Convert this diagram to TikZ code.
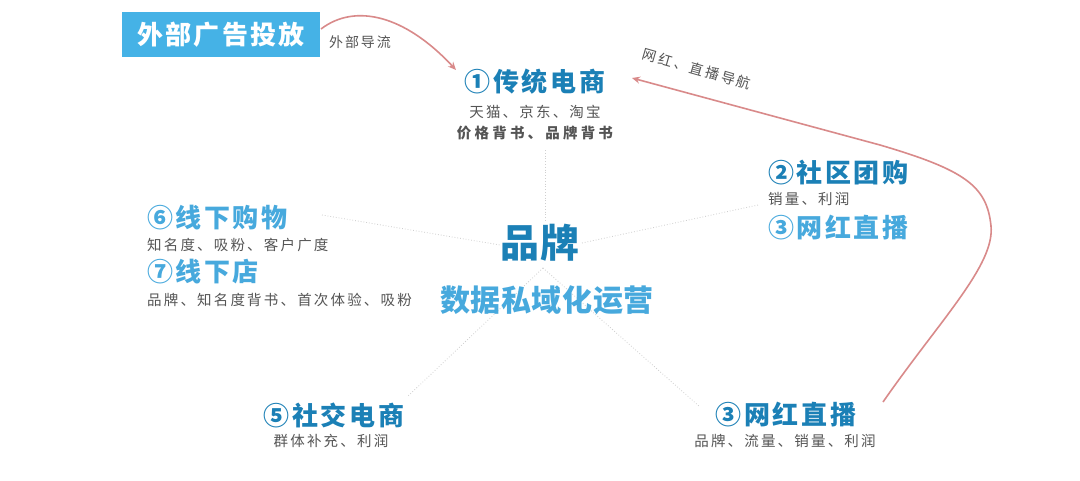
\documentclass[tikz,border=0pt]{standalone}
\usepackage{fontspec}
\setmainfont{Noto Sans CJK SC}
\usetikzlibrary{arrows.meta}
\definecolor{boxblue}{HTML}{45B2E6}
\definecolor{darkblue}{HTML}{1B80B6}
\definecolor{lightblue}{HTML}{47A9DD}
\definecolor{txtgray}{HTML}{555555}
\definecolor{arrowred}{HTML}{D98A8A}
\definecolor{dotgray}{HTML}{CFCFCF}
\tikzset{
  ttl/.style={inner sep=0pt, font=\fontsize{26}{26}\selectfont\bfseries\addfontfeature{LetterSpace=10}},
  dark/.style={ttl, text=darkblue},
  light/.style={ttl, text=lightblue},
  sub/.style={inner sep=0pt, text=txtgray, font=\fontsize{14.5}{14.5}\selectfont\addfontfeature{LetterSpace=15}},
  dotline/.style={draw=dotgray, line width=0.8pt, dotted},
  redarrow/.style={draw=arrowred, line width=1.6pt, -{Stealth[length=8pt,width=7pt]}},
}
\begin{document}
\begin{tikzpicture}[x=1pt,y=-1pt]
\useasboundingbox[fill=white] (0,0) rectangle (1080,480);
% coordinates for dotted spokes
\coordinate (vtop) at (545,150);
\coordinate (vbot) at (545,222);
\coordinate (lft1) at (322,215);
\coordinate (lft2) at (500,245);
\coordinate (rgt1) at (582,243);
\coordinate (rgt2) at (758,205);
\coordinate (apex) at (543,268);
\coordinate (ll) at (407,397);
\coordinate (lr) at (700,407);
\draw[dotline] (vtop) -- (vbot);
\draw[dotline] (lft1) -- (lft2);
\draw[dotline] (rgt1) -- (rgt2);
\draw[dotline] (apex) -- (ll);
\draw[dotline] (apex) -- (lr);
% box
\node[fill=boxblue, minimum width=198pt, minimum height=45pt, inner sep=0pt, text=white,
  font=\fontsize{26}{26}\selectfont\bfseries\addfontfeature{LetterSpace=8}] (box) at (221,34.5) {外部广告投放};
\node[sub, font=\fontsize{14}{14}\selectfont\addfontfeature{LetterSpace=14}] (ext) at (360,42) {外部导流};
% top node
\node[dark] (t1) at (535,82) {①传统电商};
\node[sub] (s1a) at (535,112) {天猫、京东、淘宝};
\node[sub, font=\fontsize{14.5}{14.5}\selectfont\bfseries\addfontfeature{LetterSpace=22}] (s1b) at (535,133) {价格背书、品牌背书};
% right
\node[dark, anchor=west] (t2) at (768,173) {②社区团购};
\node[sub, anchor=west] (s2) at (768,199) {销量、利润};
\node[light, anchor=west] (t3) at (768,228) {③网红直播};
% center
\node[inner sep=0pt, text=darkblue, font=\fontsize{39}{39}\selectfont\bfseries\addfontfeature{LetterSpace=3}] (brand) at (540,243) {品牌};
\node[inner sep=0pt, text=lightblue, font=\fontsize{30}{30}\selectfont\bfseries\addfontfeature{LetterSpace=2}] (ops) at (547,300) {数据私域化运营};
% left
\node[light, anchor=west] (t6) at (147,218) {⑥线下购物};
\node[sub, anchor=west] (s6) at (147,245) {知名度、吸粉、客户广度};
\node[light, anchor=west] (t7) at (147,272) {⑦线下店};
\node[sub, anchor=west] (s7) at (147,300) {品牌、知名度背书、首次体验、吸粉};
% bottom
\node[dark] (t5) at (334,415) {⑤社交电商};
\node[sub] (s5) at (331,441) {群体补充、利润};
\node[dark] (t3b) at (786,415) {③网红直播};
\node[sub] (s3b) at (785,441) {品牌、流量、销量、利润};
% nav label
\node[sub, rotate=-16, font=\fontsize{14}{14}\selectfont\addfontfeature{LetterSpace=16}] (nav) at (697,69) {网红、直播导航};
% arrows
\coordinate (a1s) at (321,29);
\coordinate (a1e) at (456,70);
\draw[redarrow] (a1s) .. controls (355,3) and (405,15) .. (a1e);
\coordinate (a2s) at (883,402);
\coordinate (a2m) at (991,226);
\coordinate (a2n) at (880,145);
\coordinate (a2e) at (632,78);
\draw[redarrow] (a2s) .. controls (940,320) and (995,265) .. (a2m)
  .. controls (987,186) and (965,170) .. (a2n) -- (a2e);
\end{tikzpicture}
\end{document}
